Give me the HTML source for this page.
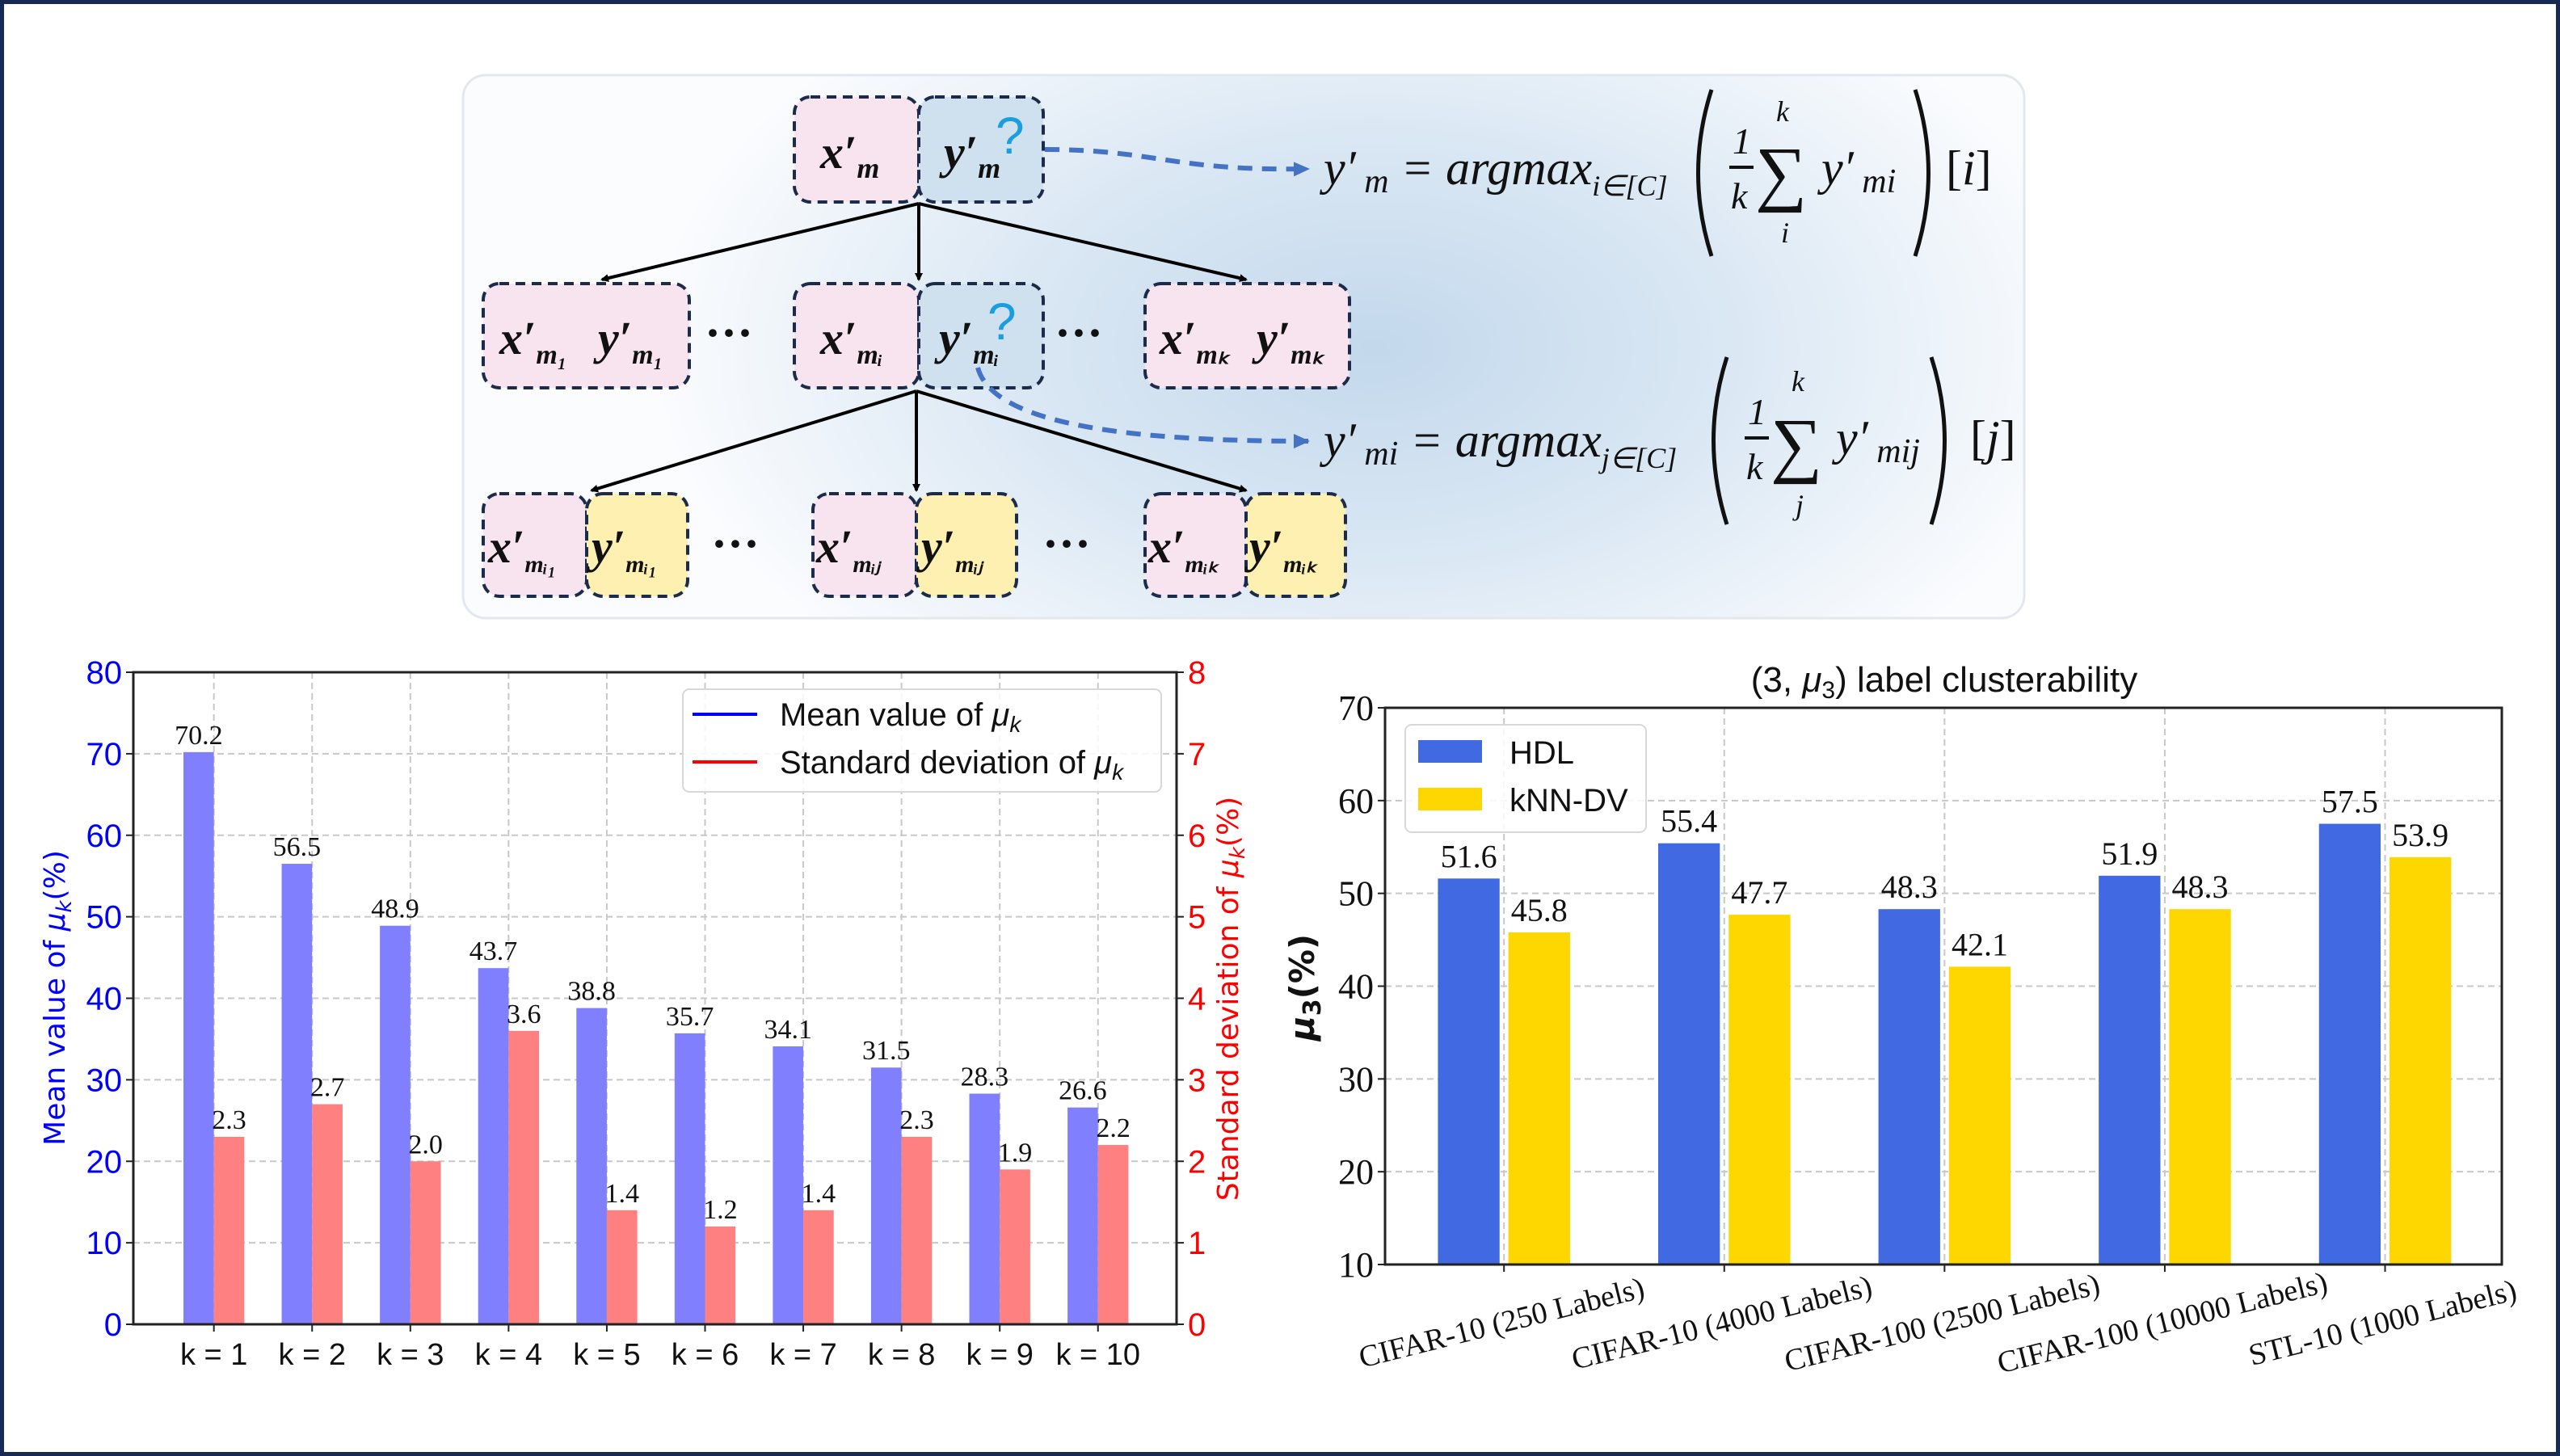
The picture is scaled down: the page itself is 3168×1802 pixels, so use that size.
<!DOCTYPE html>
<html><head><meta charset="utf-8"><style>
html,body{margin:0;padding:0;background:#fff;}
svg{display:block;}
</style></head><body>
<svg id="root" width="3168" height="1802" viewBox="0 0 3168 1802" xmlns="http://www.w3.org/2000/svg">
<defs>
<radialGradient id="bg" gradientUnits="userSpaceOnUse" cx="1700" cy="430" r="900" gradientTransform="translate(1700 430) scale(1 0.6) translate(-1700 -430)">
<stop offset="0" stop-color="#c3d8ec"/><stop offset="0.5" stop-color="#dbe8f4"/><stop offset="1" stop-color="#fbfcfe"/>
</radialGradient>
<marker id="ah" markerWidth="10" markerHeight="10" refX="8" refY="5" orient="auto" markerUnits="userSpaceOnUse" viewBox="0 0 10 10"><path d="M0,0 L10,5 L0,10 z" fill="#000"/></marker>
<marker id="ahb" markerWidth="22" markerHeight="22" refX="18" refY="11" orient="auto" markerUnits="userSpaceOnUse"><path d="M0,2 L20,11 L0,20 z" fill="#4472c4"/></marker>
</defs>
<rect x="2.5" y="2.5" width="3163" height="1797" fill="#fff" stroke="#172a54" stroke-width="5"/>

<g font-family="Liberation Serif, serif" font-style="italic" font-weight="bold">
<rect x="573" y="93" width="1932" height="672" rx="28" fill="url(#bg)" stroke="#e3e8ee" stroke-width="3"/>
<g stroke="#1d2b4a" stroke-width="4" stroke-dasharray="12 8">
<rect x="983" y="120" width="154" height="130" rx="20" fill="#f7e4ee"/>
<rect x="1137" y="120" width="154" height="130" rx="20" fill="#cfe0ef"/>
<rect x="598" y="351" width="255" height="129" rx="20" fill="#f7e4ee"/>
<rect x="983" y="351" width="154" height="129" rx="20" fill="#f7e4ee"/>
<rect x="1137" y="351" width="154" height="129" rx="20" fill="#cfe0ef"/>
<rect x="1417" y="351" width="253" height="129" rx="20" fill="#f7e4ee"/>
<rect x="598" y="611" width="128" height="127" rx="20" fill="#f7e4ee"/>
<rect x="726" y="611" width="125" height="127" rx="20" fill="#fdf0b0"/>
<rect x="1006" y="611" width="128" height="127" rx="20" fill="#f7e4ee"/>
<rect x="1134" y="611" width="124" height="127" rx="20" fill="#fdf0b0"/>
<rect x="1417" y="611" width="125" height="127" rx="20" fill="#f7e4ee"/>
<rect x="1542" y="611" width="123" height="127" rx="20" fill="#fdf0b0"/>
</g>
<g font-size="58" fill="#111">
<text x="1015" y="208">x′<tspan font-size="36" dy="12">m</tspan></text>
<text x="1168" y="208">y′<tspan font-size="36" dy="12">m</tspan></text>
<text x="618" y="438">x′<tspan font-size="34" dy="12">m₁</tspan></text>
<text x="740" y="438">y′<tspan font-size="34" dy="12">m₁</tspan></text>
<text x="1015" y="438">x′<tspan font-size="34" dy="12">mᵢ</tspan></text>
<text x="1162" y="438">y′<tspan font-size="34" dy="12">mᵢ</tspan></text>
<text x="1435" y="438">x′<tspan font-size="34" dy="12">mₖ</tspan></text>
<text x="1555" y="438">y′<tspan font-size="34" dy="12">mₖ</tspan></text>
<text x="604" y="696">x′<tspan font-size="30" dy="12">mᵢ₁</tspan></text>
<text x="732" y="696">y′<tspan font-size="30" dy="12">mᵢ₁</tspan></text>
<text x="1010" y="696">x′<tspan font-size="30" dy="12">mᵢⱼ</tspan></text>
<text x="1140" y="696">y′<tspan font-size="30" dy="12">mᵢⱼ</tspan></text>
<text x="1421" y="696">x′<tspan font-size="30" dy="12">mᵢₖ</tspan></text>
<text x="1546" y="696">y′<tspan font-size="30" dy="12">mᵢₖ</tspan></text>
</g>
<g font-family="Liberation Sans, sans-serif" font-style="normal" font-weight="normal" font-size="64" fill="#1a9ee0">
<text x="1232" y="190">?</text><text x="1222" y="420">?</text>
</g>
<g fill="#111" font-size="60" font-style="normal">
<text x="872" y="432">···</text>
<text x="1305" y="432">···</text>
<text x="880" y="693">···</text>
<text x="1290" y="693">···</text>
</g>
<g stroke="#000" stroke-width="4" fill="none" marker-end="url(#ah)">
<line x1="1137" y1="252" x2="745" y2="346"/><line x1="1137" y1="252" x2="1137" y2="346"/><line x1="1137" y1="252" x2="1542" y2="346"/>
<line x1="1134" y1="484" x2="732" y2="607"/><line x1="1134" y1="484" x2="1134" y2="607"/><line x1="1134" y1="484" x2="1542" y2="607"/>
</g>
<g stroke="#4472c4" stroke-width="6" stroke-dasharray="18 12" fill="none" marker-end="url(#ahb)">
<path d="M1293,185 C1430,185 1450,212 1619,209"/>
<path d="M1210,455 C1230,530 1420,546 1619,546"/>
</g>
<g font-weight="normal" font-size="60" fill="#111">
<text x="1638" y="228">y′<tspan font-size="42" dy="10"> m</tspan><tspan dy="-10"> = argmax</tspan><tspan font-size="36" dy="14">i∈[C]</tspan></text>
<path d="M2118,111 Q2085,214 2118,317" stroke="#111" stroke-width="5" fill="none"/>
<path d="M2370,111 Q2403,214 2370,317" stroke="#111" stroke-width="5" fill="none"/>
<text x="2144" y="190" font-size="46">1</text><line x1="2140" y1="207" x2="2170" y2="207" stroke="#111" stroke-width="4"/>
<text x="2142" y="258" font-size="46">k</text>
<text x="2172" y="244" font-style="normal" font-size="90">∑</text>
<text x="2198" y="150" font-size="36">k</text><text x="2204" y="300" font-size="36">i</text>
<text x="2254" y="228">y′<tspan font-size="42" dy="10"> mi</tspan></text>
<text x="2408" y="228" font-style="normal">[<tspan font-style="italic">i</tspan>]</text>
</g>
<g font-weight="normal" font-size="60" fill="#111">
<text x="1638" y="565">y′<tspan font-size="42" dy="10"> mi</tspan><tspan dy="-10"> = argmax</tspan><tspan font-size="36" dy="14">j∈[C]</tspan></text>
<path d="M2137,442 Q2104,545 2137,649" stroke="#111" stroke-width="5" fill="none"/>
<path d="M2390,442 Q2423,545 2390,649" stroke="#111" stroke-width="5" fill="none"/>
<text x="2163" y="525" font-size="46">1</text><line x1="2159" y1="542" x2="2189" y2="542" stroke="#111" stroke-width="4"/>
<text x="2161" y="593" font-size="46">k</text>
<text x="2191" y="580" font-style="normal" font-size="90">∑</text>
<text x="2217" y="484" font-size="36">k</text><text x="2222" y="637" font-size="36">j</text>
<text x="2272" y="562">y′<tspan font-size="42" dy="10"> mij</tspan></text>
<text x="2438" y="562" font-style="normal">[<tspan font-style="italic">j</tspan>]</text>
</g>
</g>

<g id="left"></g>
<g id="right"></g>
</svg>
<script>
const kCategories = ["k = 1","k = 2","k = 3","k = 4","k = 5","k = 6","k = 7","k = 8","k = 9","k = 10"];
const meanValues = [70.2,56.5,48.9,43.7,38.8,35.7,34.1,31.5,28.3,26.6];
const stdValues = [2.3,2.7,2.0,3.6,1.4,1.2,1.4,2.3,1.9,2.2];
const leftTicks = [0,10,20,30,40,50,60,70,80];
const rightTicks = [0,1,2,3,4,5,6,7,8];

const datasets = ["CIFAR-10 (250 Labels)","CIFAR-10 (4000 Labels)","CIFAR-100 (2500 Labels)","CIFAR-100 (10000 Labels)","STL-10 (1000 Labels)"];
const hdlValues = [51.6,55.4,48.3,51.9,57.5];
const knnValues = [45.8,47.7,42.1,48.3,53.9];
const muTicks = [10,20,30,40,50,60,70];

const NS="http://www.w3.org/2000/svg";
function mk(parent,tag,attrs,text){const e=document.createElementNS(NS,tag);for(const k in attrs)e.setAttribute(k,attrs[k]);if(text!==undefined)e.textContent=text;parent.appendChild(e);return e;}

// ---------- left chart ----------
(function(){
const g=document.getElementById('left');
const L=165,R=1456,T=832,B=1639;
const x=i=>L+(i+0.82)*(R-L)/10.62;
const y=v=>B-(v/80)*(B-T);
const y2=v=>B-(v/8)*(B-T);
const bw=0.31*(R-L)/10.62;
leftTicks.forEach(t=>{
  const l=mk(g,'line',{x1:L,x2:R,y1:y(t),y2:y(t),stroke:'#c8c8c8','stroke-width':2,'stroke-dasharray':'8 5'});
  
  
});
kCategories.forEach((c,i)=>{
  const l=mk(g,'line',{x1:x(i),x2:x(i),y1:T,y2:B,stroke:'#c8c8c8','stroke-width':2,'stroke-dasharray':'8 5'});
  
  
});
meanValues.forEach((v,i)=>{
  const r=mk(g,'rect',{x:x(i)-bw,y:y(v),width:bw,height:B-y(v),fill:'#8080ff'});
  
  
  const t=mk(g,'text',{x:x(i)-bw/2,y:y(v)-10,'text-anchor':'middle','font-family':'Liberation Serif, serif','font-size':34,fill:'#111'},v.toFixed(1));
  
  
});
stdValues.forEach((v,i)=>{
  const r=mk(g,'rect',{x:x(i),y:y2(v),width:bw,height:B-y2(v),fill:'#ff8080'});
  
  
  const t=mk(g,'text',{x:x(i)+bw/2,y:y2(v)-10,'text-anchor':'middle','font-family':'Liberation Serif, serif','font-size':34,fill:'#111'},v.toFixed(1));
  
  
});
const fr=mk(g,'rect',{x:L,y:T,width:R-L,height:B-T,fill:'none',stroke:'#222','stroke-width':3});


leftTicks.forEach(t=>{
  mk(g,'line',{x1:L-9,x2:L,y1:y(t),y2:y(t),stroke:'#222','stroke-width':2});
  const e=mk(g,'text',{x:L-14,y:y(t)+14,'text-anchor':'end','font-family':'Liberation Sans, sans-serif','font-size':40,fill:'#0000ff'},t);
  
  
});
rightTicks.forEach(t=>{
  mk(g,'line',{x1:R,x2:R+9,y1:y2(t),y2:y2(t),stroke:'#222','stroke-width':2});
  const e=mk(g,'text',{x:R+14,y:y2(t)+14,'font-family':'Liberation Sans, sans-serif','font-size':40,fill:'#ff0000'},t);
  
  
});
kCategories.forEach((c,i)=>{
  mk(g,'line',{x1:x(i),x2:x(i),y1:B,y2:B+9,stroke:'#222','stroke-width':2});
  const e=mk(g,'text',{x:x(i),y:B+50,'text-anchor':'middle','font-family':'Liberation Sans, sans-serif','font-size':38,fill:'#111'},c);
  
  
});
const yl=mk(g,'text',{x:0,y:0,transform:'translate(80 1235) rotate(-90)','text-anchor':'middle','font-family':'DejaVu Sans, sans-serif','font-size':36,fill:'#0000ff'});
yl.innerHTML='Mean value of <tspan font-style="italic">μ</tspan><tspan font-size="26" dy="8" font-style="italic">k</tspan><tspan dy="-8">(%)</tspan>';


const yr=mk(g,'text',{x:0,y:0,transform:'translate(1532 1236) rotate(-90)','text-anchor':'middle','font-family':'DejaVu Sans, sans-serif','font-size':36,fill:'#ff0000'});
yr.innerHTML='Standard deviation of <tspan font-style="italic">μ</tspan><tspan font-size="26" dy="8" font-style="italic">k</tspan><tspan dy="-8">(%)</tspan>';


const lg=mk(g,'g',{});


mk(lg,'rect',{x:845,y:853,width:592,height:127,rx:8,fill:'#fff','fill-opacity':0.85,stroke:'#d8d8d8','stroke-width':2});
mk(lg,'line',{x1:857,x2:937,y1:884,y2:884,stroke:'#0000ff','stroke-width':4});
mk(lg,'line',{x1:857,x2:937,y1:943,y2:943,stroke:'#ff0000','stroke-width':4});
const t1=mk(lg,'text',{x:965,y:898,'font-family':'Liberation Sans, sans-serif','font-size':40,fill:'#111'});
t1.innerHTML='Mean value of <tspan font-style="italic">μ</tspan><tspan font-size="28" dy="8" font-style="italic">k</tspan>';


const t2=mk(lg,'text',{x:965,y:957,'font-family':'Liberation Sans, sans-serif','font-size':40,fill:'#111'});
t2.innerHTML='Standard deviation of <tspan font-style="italic">μ</tspan><tspan font-size="28" dy="8" font-style="italic">k</tspan>';


})();

// ---------- right chart ----------
(function(){
const g=document.getElementById('right');
const L=1714,R=3096,T=876,B=1565;
const x=i=>L+(i+0.54)*(R-L)/5.07;
const y=v=>B-((v-10)/60)*(B-T);
const u=(R-L)/5.07, bw=0.28*u;
muTicks.forEach(t=>{
  const l=mk(g,'line',{x1:L,x2:R,y1:y(t),y2:y(t),stroke:'#c8c8c8','stroke-width':2,'stroke-dasharray':'8 5'});
  
  
});
datasets.forEach((c,i)=>{
  const l=mk(g,'line',{x1:x(i),x2:x(i),y1:T,y2:B,stroke:'#c8c8c8','stroke-width':2,'stroke-dasharray':'8 5'});
  
  
});
hdlValues.forEach((v,i)=>{
  const r=mk(g,'rect',{x:x(i)-0.02*u-bw,y:y(v),width:bw,height:B-y(v),fill:'#4169e1'});
  
  
  const t=mk(g,'text',{x:x(i)-0.02*u-bw/2,y:y(v)-14,'text-anchor':'middle','font-family':'Liberation Serif, serif','font-size':40,fill:'#111'},v.toFixed(1));
  
  
});
knnValues.forEach((v,i)=>{
  const r=mk(g,'rect',{x:x(i)+0.02*u,y:y(v),width:bw,height:B-y(v),fill:'#ffd700'});
  
  
  const t=mk(g,'text',{x:x(i)+0.02*u+bw/2,y:y(v)-14,'text-anchor':'middle','font-family':'Liberation Serif, serif','font-size':40,fill:'#111'},v.toFixed(1));
  
  
});
const fr=mk(g,'rect',{x:L,y:T,width:R-L,height:B-T,fill:'none',stroke:'#222','stroke-width':3});


muTicks.forEach(t=>{
  mk(g,'line',{x1:L-9,x2:L,y1:y(t),y2:y(t),stroke:'#222','stroke-width':2});
  const e=mk(g,'text',{x:L-14,y:y(t)+15,'text-anchor':'end','font-family':'Liberation Serif, serif','font-size':44,fill:'#111'},t);
  
  
});
datasets.forEach((c,i)=>{
  mk(g,'line',{x1:x(i),x2:x(i),y1:B,y2:B+9,stroke:'#222','stroke-width':2});
  const e=mk(g,'text',{x:0,y:0,transform:`translate(${x(i)} ${B+84}) rotate(-14)`,'text-anchor':'middle','font-family':'Liberation Serif, serif','font-size':38,fill:'#111'},c);
  
  
});
const title=mk(g,'text',{x:2406,y:856,'text-anchor':'middle','font-family':'Liberation Sans, sans-serif','font-size':44,fill:'#111'});
title.innerHTML='(3, <tspan font-style="italic">μ</tspan><tspan font-size="30" dy="8">3</tspan><tspan dy="-8">) label clusterability</tspan>';


const yl=mk(g,'text',{x:0,y:0,transform:'translate(1626 1222) rotate(-90)','text-anchor':'middle','font-family':'DejaVu Sans, sans-serif','font-size':42,'font-weight':'bold',fill:'#111'});
yl.innerHTML='<tspan font-style="italic">μ</tspan><tspan font-size="30" dy="8">3</tspan><tspan dy="-8">(%)</tspan>';


const lg=mk(g,'g',{});


mk(lg,'rect',{x:1739,y:897,width:298,height:133,rx:8,fill:'#fff','fill-opacity':0.85,stroke:'#d8d8d8','stroke-width':2});
mk(lg,'rect',{x:1755,y:916,width:79,height:28,fill:'#4169e1'});
mk(lg,'rect',{x:1755,y:975,width:79,height:28,fill:'#ffd700'});
const a=mk(lg,'text',{x:1868,y:945,'font-family':'Liberation Sans, sans-serif','font-size':40,fill:'#111'},'HDL');


const b=mk(lg,'text',{x:1868,y:1004,'font-family':'Liberation Sans, sans-serif','font-size':40,fill:'#111'},'kNN-DV');


})();
</script>
</body></html>
